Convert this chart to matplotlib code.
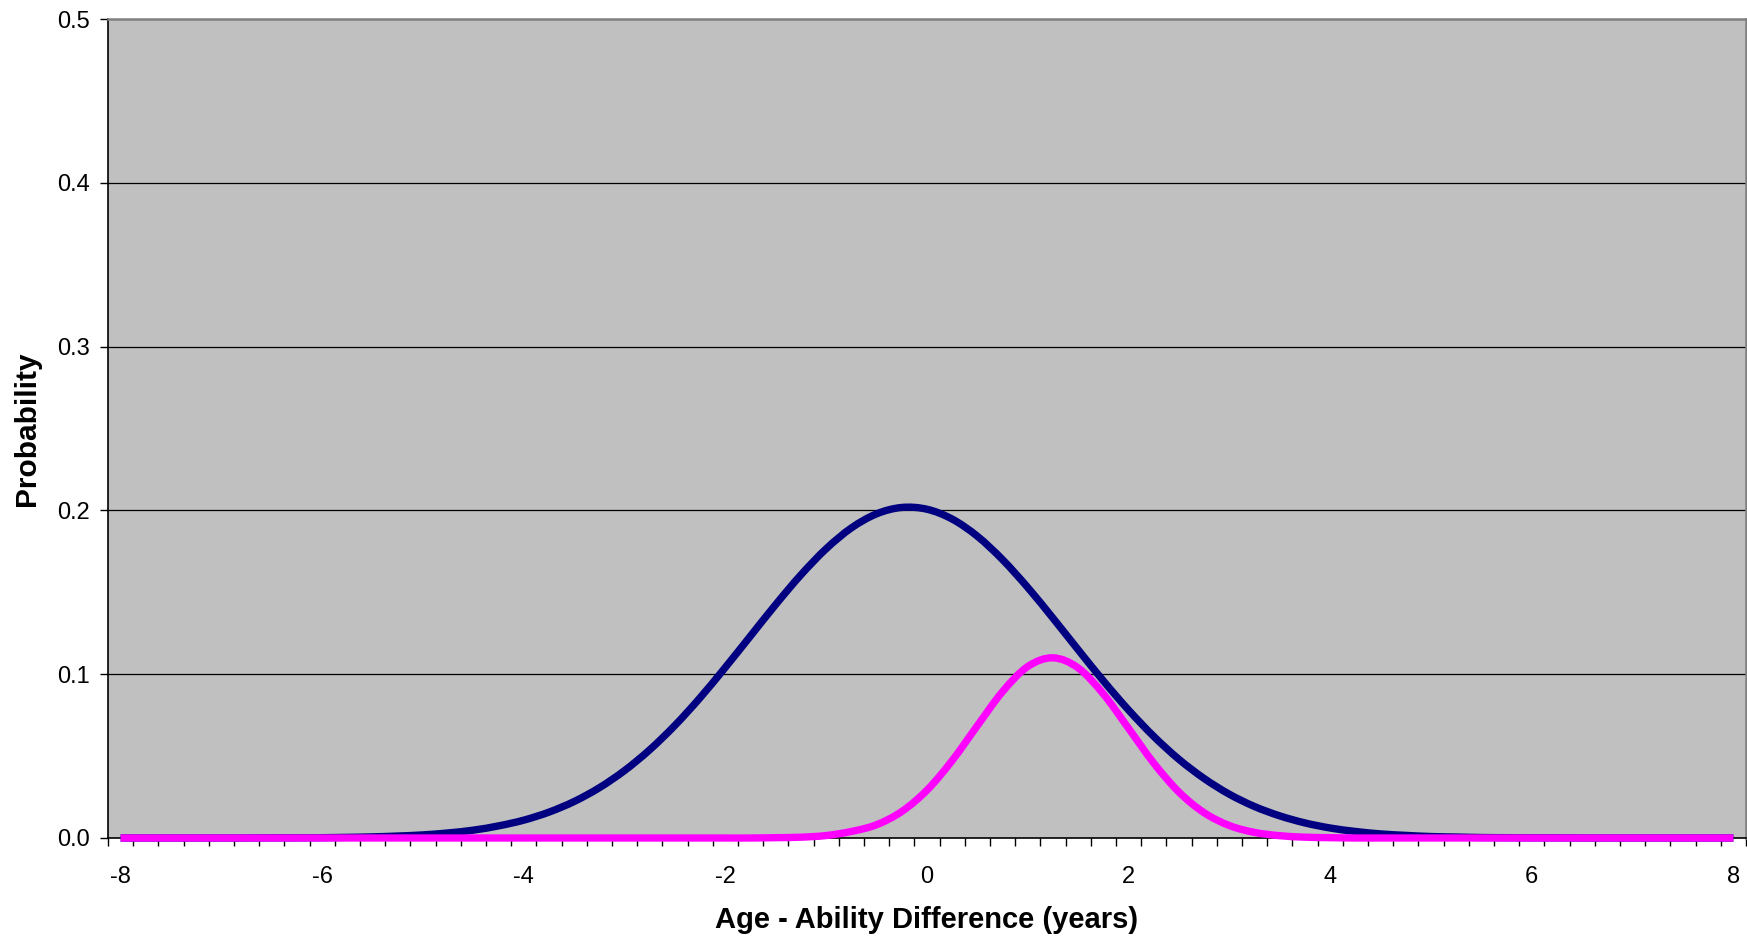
import numpy as np
import matplotlib
matplotlib.use("Agg")
import matplotlib.pyplot as plt
from matplotlib.path import Path
from matplotlib.patches import PathPatch
from matplotlib.ticker import FixedLocator, NullFormatter

plt.rcParams['font.family'] = ['Liberation Sans', 'DejaVu Sans']

# Age - ability difference categories (years), every quarter year
age_diff = np.arange(-8.0, 8.0 + 0.001, 0.25)

# Probability for the broad distribution (navy)
prob_broad = (
    [0.0000] * 6 +
    [0.0001, 0.0001, 0.0002, 0.0004, 0.0007, 0.0012, 0.0019, 0.0031, 0.0048, 0.0074,
     0.0109, 0.0158, 0.0223, 0.0307, 0.0412, 0.0539, 0.0688, 0.0857, 0.1042, 0.1234,
     0.1426, 0.1607, 0.1766, 0.1893, 0.1979, 0.2018, 0.2007, 0.1947, 0.1842, 0.1699,
     0.1529, 0.1342, 0.1149, 0.0959, 0.0781, 0.0620, 0.0480, 0.0363, 0.0267, 0.0192,
     0.0135, 0.0092, 0.0061, 0.0040, 0.0025, 0.0016, 0.0009, 0.0006, 0.0003, 0.0002,
     0.0001, 0.0001] +
    [0.0000] * 7
)

# Probability for the narrow distribution (magenta)
prob_narrow = (
    [0.0000] * 26 +
    [0.0002, 0.0005, 0.0015, 0.0040, 0.0081, 0.0162, 0.0292, 0.0473, 0.0686, 0.0894,
     0.1047, 0.1100, 0.1038, 0.0879, 0.0669, 0.0457, 0.0280, 0.0154, 0.0076, 0.0034,
     0.0014, 0.0005, 0.0002] +
    [0.0000] * 16
)

x_tick_values = [-8, -6, -4, -2, 0, 2, 4, 6, 8]
x_tick_labels = ["-8", "-6", "-4", "-2", "0", "2", "4", "6", "8"]
y_tick_values = [0.0, 0.1, 0.2, 0.3, 0.4, 0.5]
y_tick_labels = ["0.0", "0.1", "0.2", "0.3", "0.4", "0.5"]


def smooth_path(xs, ys):
    """Smoothed line through the points (Catmull-Rom as cubic Bezier segments)."""
    pts = np.column_stack([xs, ys]).astype(float)
    ext = np.vstack([pts[0], pts, pts[-1]])
    verts = [pts[0]]
    codes = [Path.MOVETO]
    for i in range(1, len(ext) - 2):
        p0, p1, p2, p3 = ext[i - 1], ext[i], ext[i + 1], ext[i + 2]
        c1 = p1 + (p2 - p0) / 6.0
        c2 = p2 - (p3 - p1) / 6.0
        verts += [c1, c2, p2]
        codes += [Path.CURVE4] * 3
    return Path(np.array(verts), codes)


W, H = 1747, 939
fig = plt.figure(figsize=(W / 100, H / 100), dpi=100)
fig.patch.set_facecolor("white")
ax = fig.add_axes([108 / W, 1 - 838 / H, (1746 - 108) / W, (838 - 19) / H])
ax.set_facecolor("#C0C0C0")

# horizontal gridlines
for yv in y_tick_values[1:-1]:
    ax.axhline(yv, color="black", lw=0.9, zorder=1)

for series, colour, z in ((prob_broad, "#000080", 3), (prob_narrow, "#FF00FF", 4)):
    patch = PathPatch(smooth_path(age_diff, series), facecolor="none",
                      edgecolor=colour, lw=5.3, zorder=z, clip_on=False,
                      capstyle="butt", joinstyle="round")
    ax.add_patch(patch)

half = 0.125
ax.set_xlim(age_diff[0] - half, age_diff[-1] + half)
ax.set_ylim(0, 0.5)

# category-style x axis: labels on categories, tick marks between categories
ax.xaxis.set_major_locator(FixedLocator(x_tick_values))
ax.set_xticklabels(x_tick_labels)
boundaries = np.arange(age_diff[0] - half, age_diff[-1] + half + 0.001, 0.25)
ax.xaxis.set_minor_locator(FixedLocator(boundaries))
ax.xaxis.set_minor_formatter(NullFormatter())
ax.tick_params(axis="x", which="major", length=0, pad=20, labelsize=17)
ax.tick_params(axis="x", which="minor", length=6, width=1.0, direction="out", color="black")

ax.set_yticks(y_tick_values)
ax.set_yticklabels(y_tick_labels)
ax.tick_params(axis="y", which="major", length=6, width=1.0, direction="out",
               pad=7, labelsize=17, color="black")

for side in ("left", "bottom"):
    ax.spines[side].set_color("black")
    ax.spines[side].set_linewidth(1.2)
for side in ("top", "right"):
    ax.spines[side].set_color("#808080")
    ax.spines[side].set_linewidth(1.8)

fig.text(927 / W, 1 - 920 / H, "Age - Ability Difference (years)",
         ha="center", va="center", fontsize=21, fontweight="bold")
fig.text(27 / W, 1 - 429 / H, "Probability", rotation=90,
         ha="center", va="center", fontsize=21.5, fontweight="bold")

fig.savefig("out.png", dpi=100, facecolor="white")
